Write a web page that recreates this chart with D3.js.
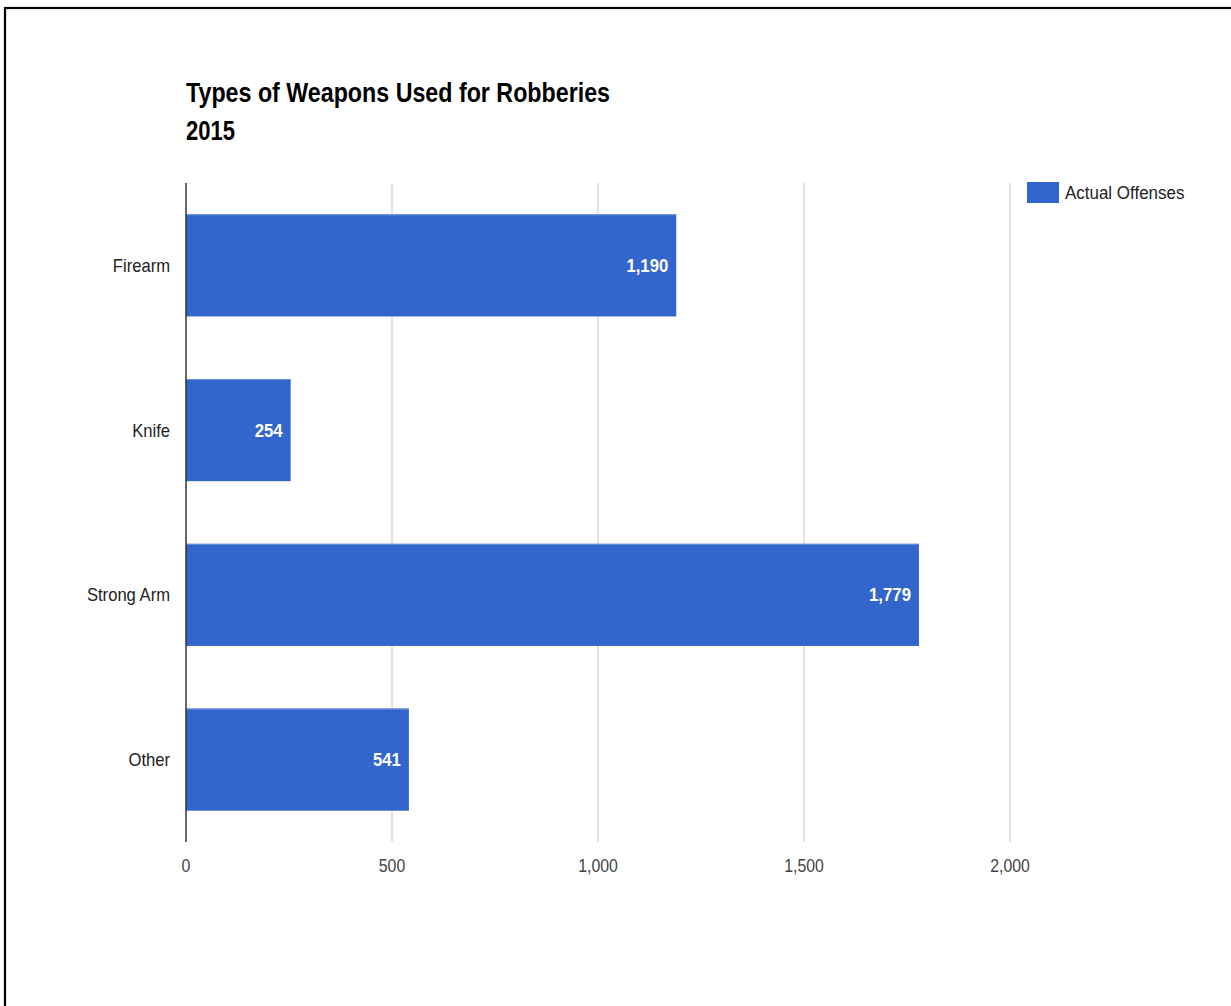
<!DOCTYPE html>
<html>
<head>
<meta charset="utf-8">
<script src="https://cdn.jsdelivr.net/npm/d3@7"></script>
<style>
  html, body { margin: 0; padding: 0; background: #fff; }
  svg { display: block; }
  text { font-family: "Liberation Sans", Arial, sans-serif; }
</style>
</head>
<body>
<svg id="chart" width="1231" height="1006"></svg>
<script>
const categories = ["Firearm", "Knife", "Strong Arm", "Other"];
const values = [1190, 254, 1779, 541];
const seriesName = "Actual Offenses";
const titleLines = ["Types of Weapons Used for Robberies", "2015"];
const xTicks = [0, 500, 1000, 1500, 2000];

const svg = d3.select("#chart");
const W = 1231, H = 1006;
const sx = 0.9; // horizontal compression of the reference text

// outer frame (top & left edges visible)
svg.append("rect").attr("x", 5).attr("y", 8).attr("width", W + 10).attr("height", H + 10)
  .attr("fill", "#fff").attr("stroke", "#000").attr("stroke-width", 2.2);

const x = d3.scaleLinear().domain([0, 2000]).range([186, 1010]);
const y = d3.scaleBand().domain(categories).range([183, 842]).paddingInner(0.38).paddingOuter(0.19);

function scaledText(parent, tx, ty, str, opts) {
  const g = parent.append("g").attr("transform", `translate(${tx},${ty})`);
  const t = g.append("text").attr("transform", `scale(${opts.sx || sx},1)`)
    .attr("text-anchor", opts.anchor || "start")
    .attr("font-size", opts.size)
    .attr("font-weight", opts.weight || "normal")
    .attr("fill", opts.fill || "#222")
    .text(str);
  return t;
}

// gridlines
svg.append("g").selectAll("line").data(xTicks.slice(1)).join("line")
  .attr("x1", d => x(d)).attr("x2", d => x(d))
  .attr("y1", 183).attr("y2", 842)
  .attr("stroke", "#c8c8c8").attr("stroke-width", 1);

// bars
svg.append("g").selectAll("rect").data(categories).join("rect")
  .attr("x", x(0))
  .attr("y", d => y(d))
  .attr("width", (d, i) => x(values[i]) - x(0))
  .attr("height", y.bandwidth())
  .attr("fill", "#3366cc");
svg.append("g").selectAll("line").data(categories).join("line")
  .attr("x1", x(0)).attr("x2", (d, i) => x(values[i]))
  .attr("y1", d => y(d) + 0.5).attr("y2", d => y(d) + 0.5)
  .attr("stroke", "#6f93dc").attr("stroke-width", 1);

// baseline axis
svg.append("line").attr("x1", x(0)).attr("x2", x(0)).attr("y1", 183).attr("y2", 842)
  .attr("stroke", "#333").attr("stroke-width", 1.5);

// value labels
const vl = svg.append("g");
categories.forEach((c, i) => {
  scaledText(vl, x(values[i]) - 8, y(c) + y.bandwidth() / 2 + 6.5, d3.format(",")(values[i]),
    { size: 18, weight: "bold", fill: "#ffffff", anchor: "end", sx: 0.93 });
});

// category labels
const yl = svg.append("g");
categories.forEach(c => {
  scaledText(yl, 170, y(c) + y.bandwidth() / 2 + 6.5, c, { size: 17.5, fill: "#222", anchor: "end", sx: 0.95 });
});

// x tick labels
const xl = svg.append("g");
xTicks.forEach(v => {
  scaledText(xl, x(v), 872, d3.format(",")(v), { size: 18, fill: "#444", anchor: "middle", sx: 0.88 });
});

// title
svg.append("text").attr("x", 186).attr("y", 101.5).attr("font-size", 27).attr("font-weight", "bold")
  .attr("fill", "#000").attr("textLength", 424).attr("lengthAdjust", "spacingAndGlyphs").text(titleLines[0]);
svg.append("text").attr("x", 186).attr("y", 140).attr("font-size", 27).attr("font-weight", "bold")
  .attr("fill", "#000").attr("textLength", 49).attr("lengthAdjust", "spacingAndGlyphs").text(titleLines[1]);

// legend
svg.append("rect").attr("x", 1027).attr("y", 182).attr("width", 32).attr("height", 21).attr("fill", "#3366cc");
scaledText(svg, 1065, 199, seriesName, { size: 17.5, fill: "#222", sx: 0.97 });
</script>
</body>
</html>
